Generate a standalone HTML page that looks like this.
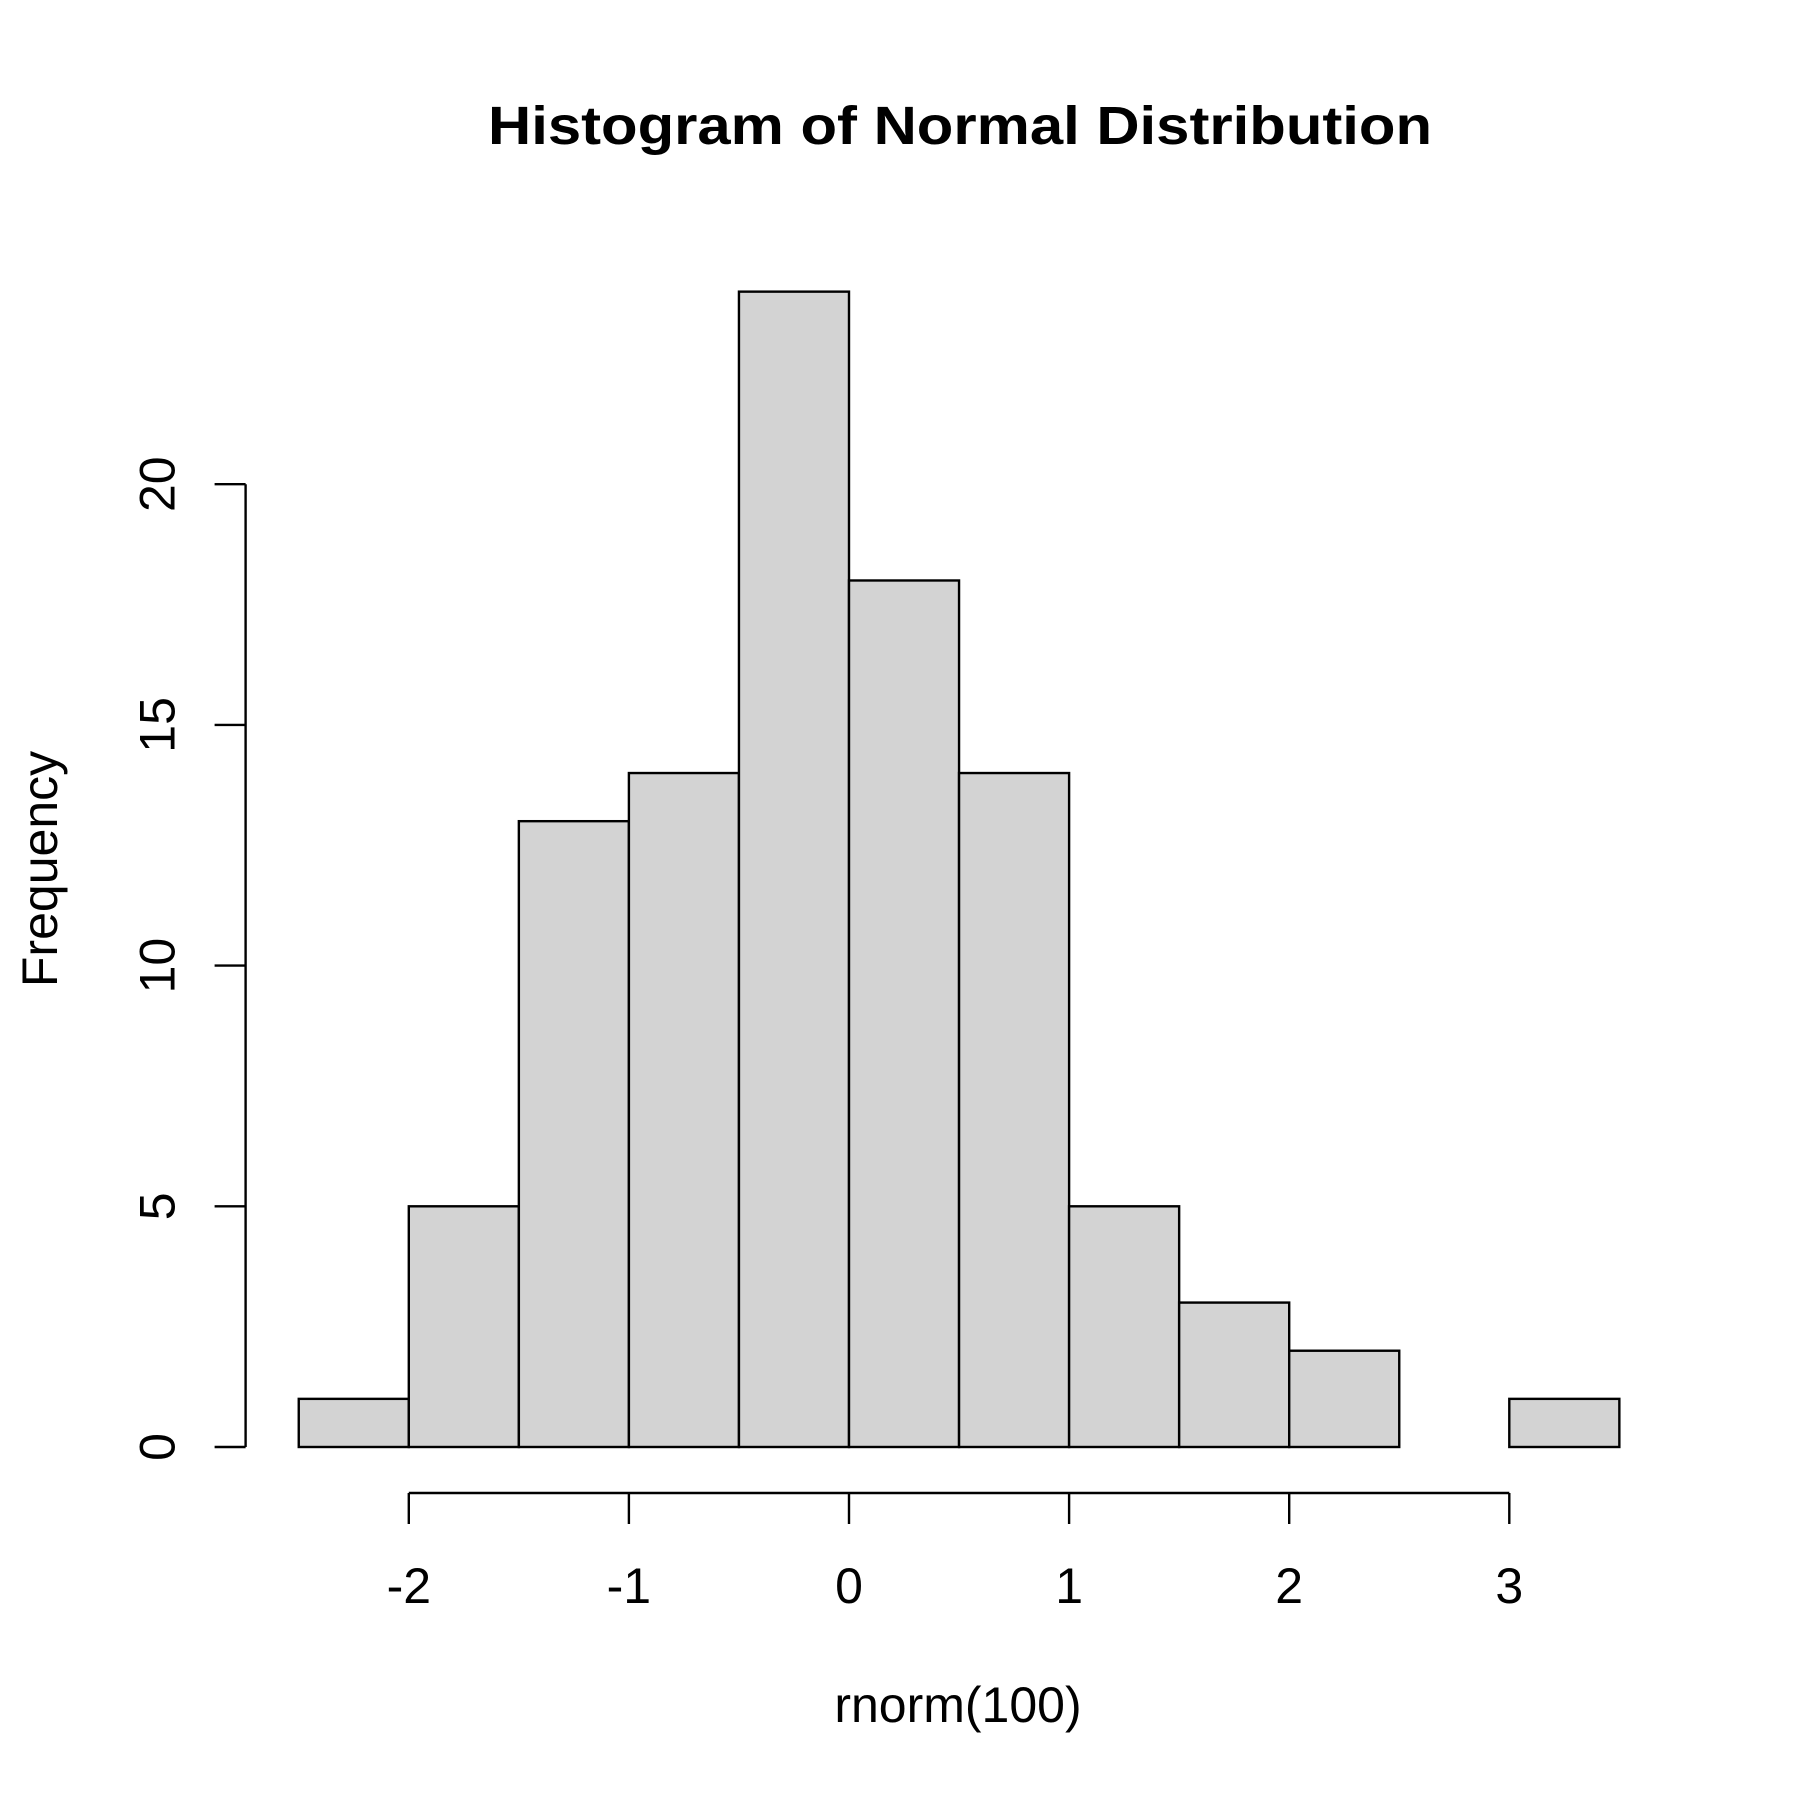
<!DOCTYPE html>
<html><head><meta charset="utf-8"><style>
html,body{margin:0;padding:0;background:#fff;}
svg{display:block;font-family:"Liberation Sans",Arial,sans-serif;}
</style></head><body>
<svg id="chart" width="1800" height="1800" viewBox="0 0 1800 1800">
<rect width="1800" height="1800" fill="#fff"/>
<text x="960" y="144" text-anchor="middle" font-size="54" font-weight="bold" textLength="944" lengthAdjust="spacingAndGlyphs">Histogram of Normal Distribution</text>
<text x="958" y="1722" text-anchor="middle" font-size="50">rnorm(100)</text>
<text transform="translate(40,869) rotate(-90)" text-anchor="middle" dominant-baseline="central" font-size="50">Frequency</text>
<g id="bars"></g><g id="axes"></g>
</svg>
<script>
const binStarts = [-2.5,-2,-1.5,-1,-0.5,0,0.5,1,1.5,2,2.5,3];
const counts = [1,5,13,14,24,18,14,5,3,2,0,1];
const binWidth = 0.5;
const xTicks = [-2,-1,0,1,2,3];
const xTickLabels = ["-2","-1","0","1","2","3"];
const yTicks = [0,5,10,15,20];
const yTickLabels = ["0","5","10","15","20"];
const NS="http://www.w3.org/2000/svg";
const sx = v => 849.0 + v*220.1;
const sy = v => 1447.0 - v*48.14;
function mk(tag, attrs, parent){const e=document.createElementNS(NS,tag);for(const k in attrs)e.setAttribute(k,attrs[k]);parent.appendChild(e);return e;}
const bars=document.getElementById('bars'), axes=document.getElementById('axes');
binStarts.forEach((b,i)=>{
  const x0=sx(b), x1=sx(b+binWidth), y0=sy(counts[i]), yb=sy(0);
  const r=mk('rect',{x:x0,y:y0,width:x1-x0,height:yb-y0,fill:'#d3d3d3',stroke:'#000','stroke-width':2.4},bars);
  
  
});
const stroke={stroke:'#000','stroke-width':2.4,fill:'none'};
let l=mk('line',Object.assign({x1:sx(xTicks[0]),x2:sx(xTicks[xTicks.length-1]),y1:1493,y2:1493},stroke),axes);


xTicks.forEach((t,i)=>{
  mk('line',Object.assign({x1:sx(t),x2:sx(t),y1:1493,y2:1524},stroke),axes);
  const tx=mk('text',{x:sx(t),y:1603,'text-anchor':'middle','font-size':50},axes);
  tx.textContent=xTickLabels[i];
  
  
});
l=mk('line',Object.assign({x1:245.6,x2:245.6,y1:sy(yTicks[0]),y2:sy(yTicks[yTicks.length-1])},stroke),axes);


yTicks.forEach((t,i)=>{
  mk('line',Object.assign({x1:214.6,x2:245.6,y1:sy(t),y2:sy(t)},stroke),axes);
  const tx=mk('text',{transform:`translate(157.5,${sy(t)}) rotate(-90)`,'text-anchor':'middle','dominant-baseline':'central','font-size':50},axes);
  tx.textContent=yTickLabels[i];
  
  
});
</script>
</body></html>
